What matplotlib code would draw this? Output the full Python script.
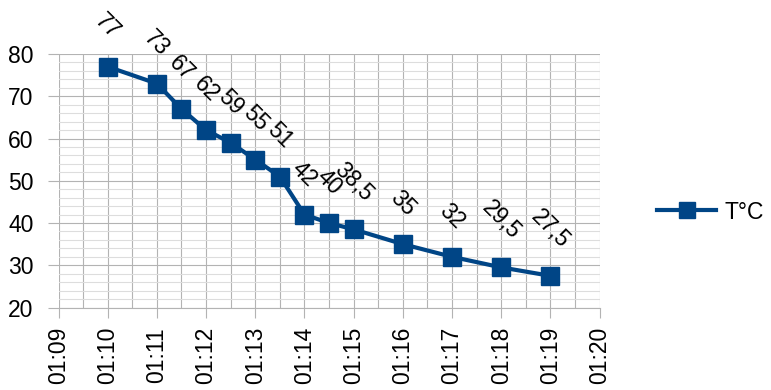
import pandas as pd
import matplotlib
matplotlib.use("Agg")
import matplotlib.pyplot as plt
import matplotlib.dates as mdates
from matplotlib.ticker import MultipleLocator

# Cooling curve readings
TIMES = ["01:10:00", "01:11:00", "01:11:30", "01:12:00", "01:12:30", "01:13:00",
         "01:13:30", "01:14:00", "01:14:30", "01:15:00", "01:16:00", "01:17:00",
         "01:18:00", "01:19:00"]
TEMPS = [77, 73, 67, 62, 59, 55, 51, 42, 40, 38.5, 35, 32, 29.5, 27.5]
SERIES_NAME = "T°C"
X_START = "01:09:00"
X_END = "01:20:00"

LINE_COLOR = "#004586"
GRID_MAJOR = "#b3b3b3"
GRID_MINOR = "#dddddd"
FONT_SIZE = 16.5

plt.rcParams["font.family"] = ["Liberation Sans", "DejaVu Sans"]

t = pd.to_datetime(["2000-01-01 " + s for s in TIMES])
x0 = pd.Timestamp("2000-01-01 " + X_START)
x1 = pd.Timestamp("2000-01-01 " + X_END)

fig = plt.figure(figsize=(7.71, 3.90), dpi=100)
ax = fig.add_axes([0.0759, 0.2115, 0.7017, 0.6500])

line, = ax.plot(t, TEMPS, color=LINE_COLOR, linewidth=3, marker="s",
                markersize=13.5, markeredgecolor=LINE_COLOR, zorder=3,
                label=SERIES_NAME)

# value labels, rotated, sitting above each point
for xi, v in zip(t, TEMPS):
    txt = f"{v:g}".replace(".", ",")
    ax.annotate(txt, (xi, v), xytext=(0, 17), textcoords="offset points",
                ha="center", va="bottom", rotation=-45,
                fontsize=FONT_SIZE, color="black", annotation_clip=False)

ax.set_xlim(x0, x1)
ax.set_ylim(20, 80)

ax.xaxis.set_major_locator(mdates.MinuteLocator())
ax.xaxis.set_minor_locator(mdates.SecondLocator(bysecond=[30]))
ax.xaxis.set_major_formatter(mdates.DateFormatter("%H:%M"))
ax.yaxis.set_major_locator(MultipleLocator(10))
ax.yaxis.set_minor_locator(MultipleLocator(2))

ax.grid(axis="x", which="both", color=GRID_MAJOR, linewidth=0.8)
ax.grid(axis="y", which="major", color=GRID_MAJOR, linewidth=0.8)
ax.grid(axis="y", which="minor", color=GRID_MINOR, linewidth=0.8)
ax.set_axisbelow(True)

for side in ["top", "right", "left"]:
    ax.spines[side].set_visible(False)
ax.spines["bottom"].set_color(GRID_MAJOR)

ax.tick_params(axis="x", which="major", length=7, color=GRID_MAJOR, pad=7,
               labelsize=FONT_SIZE, labelrotation=90)
ax.tick_params(axis="y", which="major", length=8, color=GRID_MAJOR, pad=10,
               labelsize=FONT_SIZE)
ax.tick_params(which="minor", length=0)

fig.legend(handles=[line], loc="center left", bbox_to_anchor=(0.852, 0.4564),
           frameon=False, borderpad=0, borderaxespad=0, handlelength=2.6,
           handletextpad=0.35, fontsize=FONT_SIZE, markerscale=0.85)

fig.savefig("out.png", dpi=100)
